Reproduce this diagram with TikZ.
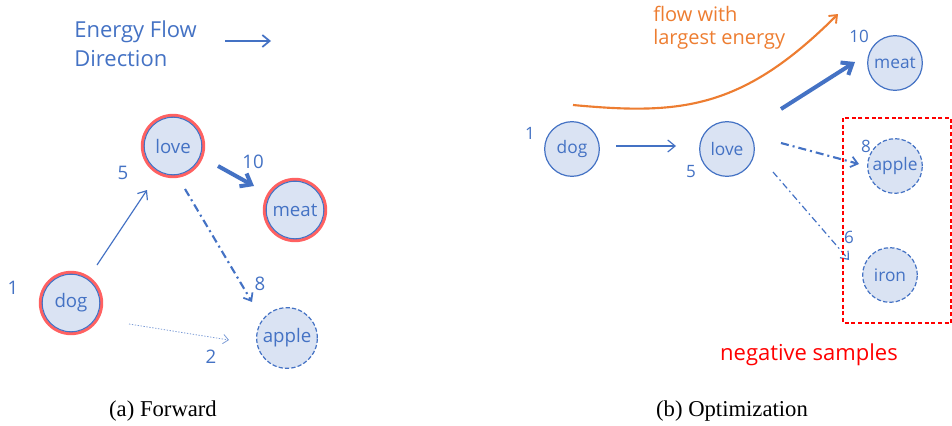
\documentclass[tikz,border=0pt]{standalone}
\usepackage{fontspec}
\setmainfont{Open Sans}
\newfontfamily\capfont{Liberation Serif}
\usetikzlibrary{arrows.meta,calc}
\definecolor{eblue}{HTML}{4472C4}
\definecolor{efill}{HTML}{DAE3F3}
\definecolor{ered}{HTML}{FF6161}
\definecolor{eorange}{HTML}{ED7D31}
\definecolor{nred}{HTML}{FF0000}
\tikzset{
  word/.style={circle,fill=efill,draw=eblue,line width=0.9pt,inner sep=0pt,outer sep=0pt,text=eblue,font=\fontsize{14}{16}\selectfont},
  leftw/.style={word,minimum size=46pt},
  hot/.style={leftw,draw=ered,line width=2.3pt},
  inring/.style={draw=eblue,line width=0.8pt},
  rightw/.style={word,minimum size=41pt,font=\fontsize{13}{15}\selectfont},
  neg/.style={dash pattern=on 3.2pt off 1.6pt},
  num/.style={text=eblue,inner sep=0pt,font=\fontsize{14}{16}\selectfont},
  rnum/.style={num,font=\fontsize{12.75}{15}\selectfont},
  thin arrow/.style={draw=eblue,line width=0.9pt,-{Straight Barb[length=5.5pt,width=9pt]}},
  thick arrow/.style={draw=eblue,line width=3pt,-{Straight Barb[length=7pt,width=11pt,line width=3pt]}},
  dd arrow/.style={draw=eblue,line width=1.6pt,dash pattern=on 6pt off 3pt on 1.5pt off 3pt,-{Straight Barb[length=5pt,width=8pt,line width=1.3pt]}},
  ddthin arrow/.style={draw=eblue,line width=0.9pt,dash pattern=on 5pt off 2.5pt on 1.2pt off 2.5pt,-{Straight Barb[length=5pt,width=8pt,line width=0.9pt]}},
  dot arrow/.style={draw=eblue!70,line width=0.6pt,dash pattern=on 1pt off 1.2pt,-{Straight Barb[length=4pt,width=7pt,line width=0.6pt]}},
  captxt/.style={font=\capfont\fontsize{17}{20}\selectfont,inner sep=0pt}
}
\begin{document}
\begin{tikzpicture}[x=0.75pt,y=-0.75pt]
\useasboundingbox (0,0) rectangle (952,425);
% ---------- (a) Forward ----------
\node[text=eblue,anchor=west,align=left,inner sep=0pt,font=\fontsize{16.5}{21.75}\selectfont] (eflow) at (74,44) {Energy Flow\\Direction};
\coordinate (ef1) at (225,41);
\coordinate (ef2) at (271,41);
\draw[thin arrow,line width=1.3pt] (ef1) -- (ef2);

\node[hot] (ldog) at (71,303) {dog};
\draw[inring] (ldog.center) circle (21.6pt);
\node[hot] (llove) at (173,146) {love};
\draw[inring] (llove.center) circle (21.6pt);
\node[hot] (lmeat) at (295,210) {meat};
\draw[inring] (lmeat.center) circle (21.6pt);
\node[leftw,neg,minimum size=45.5pt] (lapple) at (287,338) {apple};

\node[num] (n1) at (13,288) {1};
\node[num] (n5) at (123,173) {5};
\node[num] (n10) at (253,162) {10};
\node[num] (n8) at (260,284) {8};
\node[num] (n2) at (211,357) {2};

\draw[thin arrow] ($(ldog)+(26,-38)$) -- ($(llove)+(-26,44)$);
\draw[thick arrow] ($(llove)+(45,20)$) -- ($(lmeat)+(-41,-24)$);
\draw[dd arrow] ($(llove)+(12,43)$) -- ($(lapple)+(-35,-36)$);
\draw[dot arrow] ($(ldog)+(58,21)$) -- ($(lapple)+(-58,2)$);

\node[captxt] (capa) at (163,411) {(a) Forward};

% ---------- (b) Optimization ----------
\node[rightw] (rdog) at (572,149) {dog};
\node[rightw] (rlove) at (727,149) {love};
\node[rightw] (rmeat) at (895,63) {meat};
\node[rightw,neg] (rapple) at (895,166) {apple};
\node[rightw,neg] (riron) at (890,275) {iron};

\node[rnum] (m1) at (530,133) {1};
\node[rnum] (m5) at (691,172) {5};
\node[rnum] (m10) at (859,36) {10};
\node[rnum] (m8) at (866,146) {8};
\node[rnum] (m6) at (849,237) {6};

\draw[thin arrow] ($(rdog)+(44,-3)$) -- ($(rlove)+(-51,-3)$);
\draw[thick arrow] ($(rlove)+(54,-40)$) -- ($(rmeat)+(-40,-1)$);
\draw[dd arrow] ($(rlove)+(54,-6)$) -- ($(rapple)+(-36,-2)$);
\draw[ddthin arrow] ($(rlove)+(46,23)$) -- ($(riron)+(-41,-15)$);

\coordinate (of1) at (573,105);
\coordinate (of2) at (838,14);
\draw[draw=eorange,line width=1.6pt,-{Straight Barb[length=5pt,width=8pt,line width=1.4pt]}]
  (of1) .. controls (680,115) and (742,110) .. (of2);
\node[text=eorange,anchor=north west,align=left,inner sep=0pt,font=\fontsize{15}{17.25}\selectfont] (flowtxt) at (653,6) {flow with\\largest energy};

\draw[draw=nred,line width=0.8pt,dash pattern=on 3pt off 2pt] (843,118) rectangle (951,323);
\node[text=nred,inner sep=0pt,font=\fontsize{16.5}{19}\selectfont] (negtxt) at (809,355) {negative samples};

\node[captxt] (capb) at (732,411) {(b) Optimization};
\end{tikzpicture}
\end{document}
